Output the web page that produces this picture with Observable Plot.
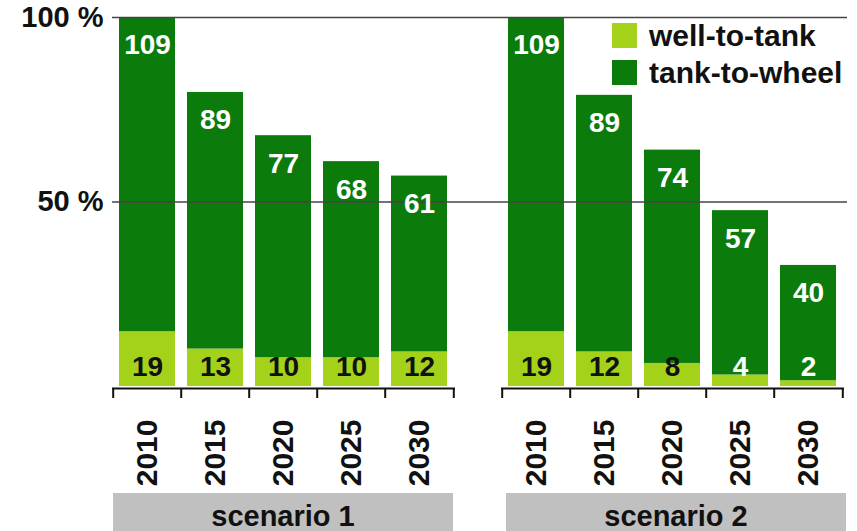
<!DOCTYPE html>
<html>
<head>
<meta charset="utf-8">
<script src="https://cdn.jsdelivr.net/npm/d3@7"></script>
<script src="https://cdn.jsdelivr.net/npm/@observablehq/plot@0.6"></script>
<style>
  html, body { margin: 0; padding: 0; background: #fff; }
  #wrap { position: relative; width: 857px; height: 531px; overflow: hidden;
          font-family: "Liberation Sans", Arial, sans-serif; font-weight: bold; color: #111; }
  #legend { position: absolute; left: 612px; top: 23px; }
  .item { display: flex; align-items: center; height: 25px; margin-bottom: 12px; font-size: 30px; }
  .sw { width: 25px; height: 25px; margin-right: 12px; }
  #groups { position: relative; height: 38px; }
  .grp { position: absolute; top: 0; height: 38px; background: #c0c0c0; text-align: center;
         font-size: 29px; line-height: 46px; }
</style>
</head>
<body>
<div id="wrap"></div>
<script>
// ---- data ----
const scenarios = ["scenario 1", "scenario 2"];
const years = ["2010", "2015", "2020", "2025", "2030"];
const series = ["well-to-tank", "tank-to-wheel"];
const seriesColors = ["#a4d21a", "#0b7b0b"];
const wellToTank1 = [19, 13, 10, 10, 12];
const tankToWheel1 = [109, 89, 77, 68, 61];
const wellToTank2 = [19, 12, 8, 4, 2];
const tankToWheel2 = [109, 89, 74, 57, 40];
const referenceTotal = 128; // = 100 %
const yTicks = [50, 100];
const yTickLabels = ["50 %", "100 %"];

// ---- table ----
const rows = [];
const tops = [];
[[wellToTank1, tankToWheel1], [wellToTank2, tankToWheel2]].forEach(([wtt, ttw], s) => {
  years.forEach((year, i) => {
    rows.push({scenario: scenarios[s], year, type: series[0], value: wtt[i], pct: wtt[i] / referenceTotal * 100});
    rows.push({scenario: scenarios[s], year, type: series[1], value: ttw[i], pct: ttw[i] / referenceTotal * 100});
    tops.push({scenario: scenarios[s], year, value: ttw[i], pct: (wtt[i] + ttw[i]) / referenceTotal * 100});
  });
});
const wttRows = rows.filter(d => d.type === series[0]);
const grid1 = yTicks.map(t => ({scenario: scenarios[0], t}));
const grid2 = yTicks.map(t => ({scenario: scenarios[1], t}));

const facetWidth = 343, facetGap = 46;
const halfStep = facetWidth / years.length / 2;

const plot = Plot.plot({
  width: 857,
  height: 493,
  marginLeft: 112,
  marginRight: 13,
  marginTop: 17,
  marginBottom: 107,
  style: {fontFamily: '"Liberation Sans", Arial, sans-serif', fontWeight: "bold", fontSize: "29px", color: "#111", background: "white", overflow: "visible"},
  fx: {domain: scenarios, paddingInner: facetGap / (facetWidth + facetGap), paddingOuter: 0, axis: null, label: null},
  x: {domain: years, paddingInner: 0.17, paddingOuter: 0.085, label: null},
  y: {domain: [0, 100], label: null},
  color: {domain: series, range: seriesColors},
  marks: [
    Plot.barY(rows, Plot.stackY({fx: "scenario", x: "year", y: "pct", fill: "type"})),
    Plot.ruleY(grid1, {fx: "scenario", y: "t", stroke: "#444", strokeWidth: 1.5, insetRight: -facetGap / 2}),
    Plot.ruleY(grid2, {fx: "scenario", y: "t", stroke: "#444", strokeWidth: 1.5, insetLeft: -facetGap / 2, insetRight: -3}),
    Plot.text(wttRows, {fx: "scenario", x: "year", y: 0, text: "value", dy: -19, fontSize: 28,
      fill: d => d.value >= 8 ? "#111" : "white"}),
    Plot.text(tops, {fx: "scenario", x: "year", y: "pct", text: "value", dy: 28, fontSize: 28, fill: "white"}),
    Plot.ruleY([0], {dy: 2, stroke: "#111", strokeWidth: 2}),
    Plot.axisX({tickSize: 0, tickRotate: -90, tickPadding: 33, fontSize: 30, label: null}),
    Plot.axisX({text: null, tickSize: 10, dx: -halfStep, dy: 2, strokeWidth: 2, label: null}),
    Plot.axisX({ticks: [years[years.length - 1]], text: null, tickSize: 10, dx: halfStep, dy: 2, strokeWidth: 2, label: null}),
    Plot.axisY({ticks: yTicks, tickFormat: d => yTickLabels[yTicks.indexOf(d)], tickSize: 0, tickPadding: 9, label: null})
  ]
});

const wrap = document.getElementById("wrap");
wrap.appendChild(plot);

// legend
const legend = document.createElement("div");
legend.id = "legend";
series.forEach((s, i) => {
  const item = document.createElement("div");
  item.className = "item";
  item.innerHTML = `<div class="sw" style="background:${seriesColors[i]}"></div><span>${s}</span>`;
  legend.appendChild(item);
});
wrap.appendChild(legend);

// scenario boxes below
const fx = plot.scale("fx");
const groups = document.createElement("div");
groups.id = "groups";
scenarios.forEach((s, i) => {
  const g = document.createElement("div");
  g.className = "grp";
  const left = fx.apply(s);
  g.style.left = (left + (i === 0 ? 1 : 5)) + "px";
  g.style.width = (fx.bandwidth - 3) + "px";
  g.textContent = s;
  groups.appendChild(g);
});
wrap.appendChild(groups);
</script>
</body>
</html>
